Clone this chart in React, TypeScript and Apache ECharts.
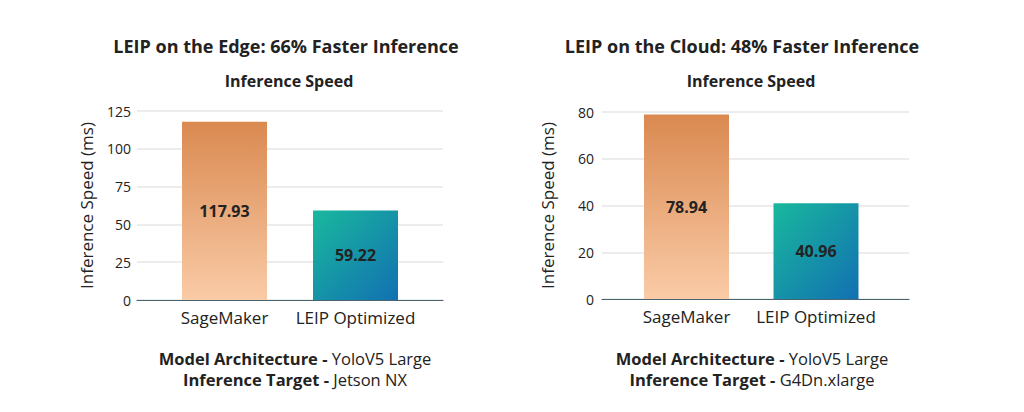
import React, { useEffect, useRef } from "react";
import * as echarts from "echarts";

const categories = ["SageMaker", "LEIP Optimized"];
const edgeValues = [117.93, 59.22];
const cloudValues = [78.94, 40.96];
const edgeTicks = { min: 0, max: 125, interval: 25 };
const cloudTicks = { min: 0, max: 80, interval: 20 };
const edgeTitle = "LEIP on the Edge: 66% Faster Inference";
const cloudTitle = "LEIP on the Cloud: 48% Faster Inference";
const subTitle = "Inference Speed";
const yAxisName = "Inference Speed (ms)";
const edgeFooter = [
  ["Model Architecture - ", "YoloV5 Large"],
  ["Inference Target - ", "Jetson NX"],
];
const cloudFooter = [
  ["Model Architecture - ", "YoloV5 Large"],
  ["Inference Target - ", "G4Dn.xlarge"],
];

const FONT = "'Open Sans', sans-serif";
const TXT = "#222222";

const orangeGrad = new echarts.graphic.LinearGradient(0, 0, 0, 1, [
  { offset: 0, color: "#DA8950" },
  { offset: 1, color: "#FACBA7" },
]);
const tealGrad = new echarts.graphic.LinearGradient(0, 0, 1, 1, [
  { offset: 0, color: "#19B89D" },
  { offset: 1, color: "#1270B2" },
]);

function panel(
  bgLeft: number,
  bgWidth: number,
  barLeft: number,
  barWidth: number,
  top: number,
  height: number,
  ticks: { min: number; max: number; interval: number },
  values: number[],
  idx: number,
  nameGap: number,
  labelMargin: number
) {
  const g0 = idx * 2;
  const g1 = idx * 2 + 1;
  const grids = [
    { left: bgLeft, width: bgWidth, top, height },
    { left: barLeft, width: barWidth, top, height },
  ];
  const xAxes = [
    {
      gridIndex: g0,
      type: "category",
      data: categories,
      axisLine: { show: true, lineStyle: { color: "#4A6470", width: 1.2 } },
      axisTick: { show: false },
      axisLabel: { show: false },
      splitLine: { show: false },
      z: 5,
    },
    {
      gridIndex: g1,
      type: "category",
      data: categories,
      axisLine: { show: false },
      axisTick: { show: false },
      axisLabel: {
        show: true,
        interval: 0,
        hideOverlap: false,
        color: TXT,
        fontFamily: FONT,
        fontSize: 17,
        margin: 9,
      },
    },
  ];
  const yAxes = [
    {
      gridIndex: g0,
      type: "value",
      min: ticks.min,
      max: ticks.max,
      interval: ticks.interval,
      name: yAxisName,
      nameLocation: "middle",
      nameGap,
      nameTextStyle: { color: TXT, fontFamily: FONT, fontSize: 17 },
      axisLine: { show: false },
      axisTick: { show: false },
      axisLabel: {
        color: TXT,
        fontFamily: FONT,
        fontSize: 14,
        margin: labelMargin,
      },
      splitLine: { show: true, lineStyle: { color: "#E4E6E6", width: 1.5 } },
    },
    {
      gridIndex: g1,
      type: "value",
      min: ticks.min,
      max: ticks.max,
      interval: ticks.interval,
      show: false,
      splitLine: { show: false },
    },
  ];
  const series = [
    {
      type: "bar",
      xAxisIndex: g1,
      yAxisIndex: g1,
      barWidth: 85,
      data: values.map((v, i) => ({
        value: v,
        itemStyle: { color: i === 0 ? orangeGrad : tealGrad },
      })),
      label: {
        show: true,
        position: "inside",
        color: TXT,
        fontFamily: FONT,
        fontSize: 16,
        fontWeight: "bold",
        formatter: (p: any) => p.value.toFixed(2),
      },
    },
  ];
  return { grids, xAxes, yAxes, series };
}

function textEl(x: number, y: number, text: string, size: number, weight: string) {
  return {
    type: "text",
    x,
    y,
    style: {
      text,
      fill: TXT,
      fontFamily: FONT,
      fontSize: size,
      fontWeight: weight,
      align: "center",
      verticalAlign: "middle",
    },
  };
}

function footerEl(x: number, y: number, lines: string[][]) {
  return {
    type: "text",
    x,
    y,
    style: {
      text: lines.map((l) => `{b|${l[0]}}{n|${l[1]}}`).join("\n"),
      fill: TXT,
      fontFamily: FONT,
      fontSize: 16.5,
      lineHeight: 21,
      align: "center",
      verticalAlign: "middle",
      rich: {
        b: { fontFamily: FONT, fontSize: 16.5, fontWeight: "bold", fill: TXT, lineHeight: 21 },
        n: { fontFamily: FONT, fontSize: 16.5, fontWeight: "normal", fill: TXT, lineHeight: 21 },
      },
    },
  };
}

export default function App() {
  const ref = useRef<HTMLDivElement>(null);
  useEffect(() => {
    if (!ref.current) return;
    const chart = echarts.init(ref.current, null, { renderer: "svg" });
    const a = panel(137, 306, 159, 262, 111, 189, edgeTicks, edgeValues, 0, 42, 6);
    const b = panel(602, 307, 621.75, 259, 112, 187, cloudTicks, cloudValues, 1, 46, 8);
    chart.setOption({
      animation: false,
      backgroundColor: "#ffffff",
      grid: [...a.grids, ...b.grids],
      xAxis: [...a.xAxes, ...b.xAxes],
      yAxis: [...a.yAxes, ...b.yAxes],
      series: [...a.series, ...b.series],
      graphic: [
        textEl(286, 46, edgeTitle, 18, "bold"),
        textEl(742, 46, cloudTitle, 18, "bold"),
        textEl(289, 81, subTitle, 16, "bold"),
        textEl(751, 81, subTitle, 16, "bold"),
        footerEl(295, 369, edgeFooter),
        footerEl(752, 369, cloudFooter),
      ],
    });
    return () => chart.dispose();
  }, []);
  return (
    <div
      ref={ref}
      style={{ position: "fixed", left: 0, top: 0, width: 1024, height: 412 }}
    />
  );
}
